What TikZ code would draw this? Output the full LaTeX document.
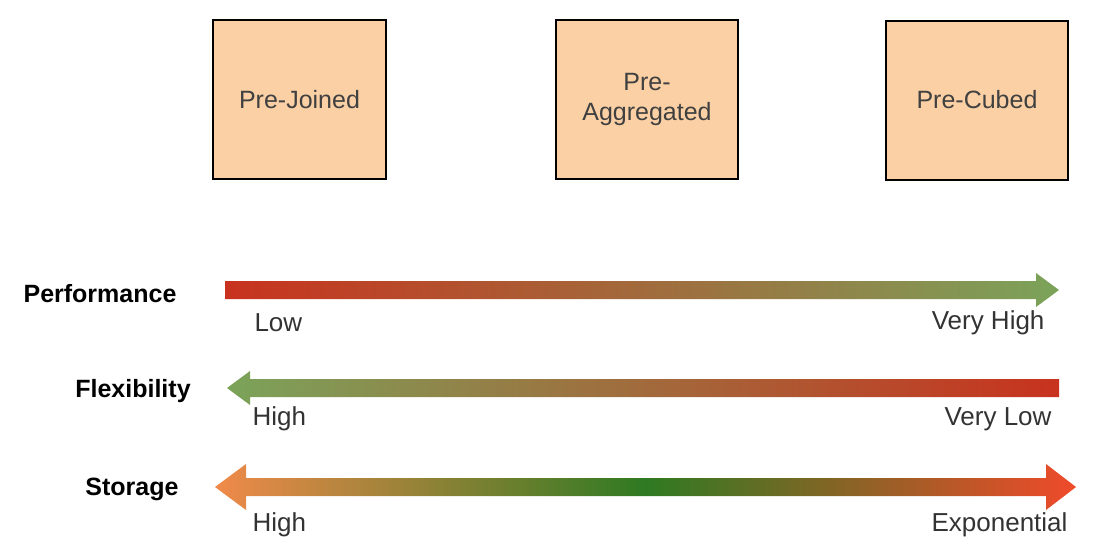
\documentclass[tikz,border=0pt]{standalone}
\usepackage{fontspec}
\setmainfont{Liberation Sans}
\definecolor{boxfill}{HTML}{FAD0A4}
\definecolor{lowred}{HTML}{C8321E}
\definecolor{highgreen}{HTML}{7BA35A}
\definecolor{storeorange}{HTML}{F08A4A}
\definecolor{storegreen}{HTML}{2E7A22}
\definecolor{storered}{HTML}{F04A2A}
\tikzset{
  stagebox/.style={draw=black, line width=2pt, fill=boxfill, align=center,
    minimum width=173pt, minimum height=159pt, font=\fontsize{25}{30}\selectfont, text=black!75},
  rowlabel/.style={font=\fontsize{25}{30}\selectfont\bfseries},
  endlabel/.style={font=\fontsize{26}{30}\selectfont, text=black!80}
}
\begin{document}
\begin{tikzpicture}[x=1pt, y=-1pt]
        \useasboundingbox (0,0) rectangle (1093,558);
        
        % Boxes
        \node[stagebox] (joined) at (299.5, 99.5) {Pre-Joined};
        \node[stagebox, minimum width=182pt] (aggr) at (647, 99.5) {Pre-\\Aggregated};
        \node[stagebox, minimum width=182pt] (cubed) at (977, 100) {Pre-Cubed};
        
        % Performance
        \node[rowlabel] (perf) at (100, 294) {Performance};
        \shade[left color=lowred, right color=highgreen]
          (225, 281) -- (1036, 281) -- (1036, 273) -- (1059, 290) -- (1036, 307) -- (1036, 299) -- (225, 299) -- cycle;
        \node[endlabel, anchor=west] (perflow) at (251, 323) {Low};
        \node[endlabel, anchor=east] (perfhigh) at (1048, 323) {Very High};
        
        % Flexibility
        \node[rowlabel] (flex) at (133, 391) {Flexibility};
        \shade[left color=highgreen, right color=lowred]
          (1059, 379) -- (250, 379) -- (250, 371) -- (227, 388) -- (250, 405) -- (250, 397) -- (1059, 397) -- cycle;
        \node[endlabel, anchor=west] (flexhigh) at (249, 419) {High};
        \node[endlabel, anchor=east] (flexlow) at (1055, 419) {Very Low};
        
        % Storage
        \node[rowlabel] (store) at (132, 489) {Storage};
        \shade[left color=storeorange, right color=storered, middle color=storegreen]
          (246, 478) -- (1046, 478) -- (1046, 464) -- (1076, 487) -- (1046, 510) -- (1046, 496)
          -- (246, 496) -- (246, 510) -- (215, 487) -- (246, 464) -- cycle;
        \node[endlabel, anchor=west] (storehigh) at (249, 525) {High};
        \node[endlabel, anchor=east] (storeexp) at (1071, 525) {Exponential};
    \end{tikzpicture}
\end{document}
